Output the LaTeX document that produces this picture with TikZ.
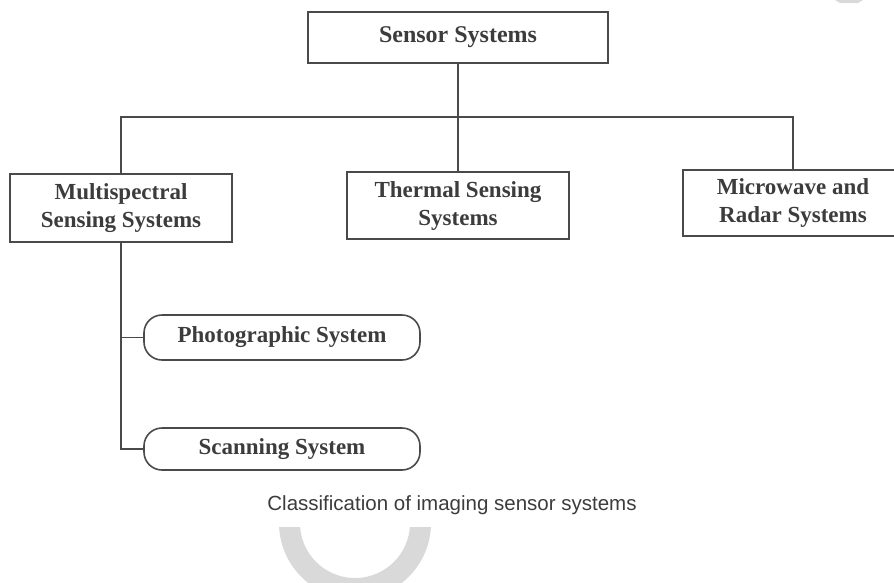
\documentclass[tikz,border=0pt]{standalone}
\usepackage{fontspec}
\setmainfont{Liberation Serif}
\newfontfamily\capfont{Liberation Sans}
\definecolor{inkgray}{HTML}{3C3C3C}
\definecolor{linegray}{HTML}{4A4A4A}
\definecolor{markgray}{HTML}{D9D9D9}

\tikzset{
  sysbox/.style={draw=linegray, line width=1.6pt, text=inkgray, align=center,
    inner sep=0pt, font=\bfseries\fontsize{23}{28}\selectfont},
  subbox/.style={sysbox, rounded corners=18pt},
  link/.style={draw=linegray, line width=1.6pt}
}

\begin{document}
\begin{tikzpicture}[x=1pt, y=-1pt]
  \useasboundingbox (0, 0) rectangle (894, 582);

  % Watermark pieces
  \begin{scope}
    \clip (250, 527) rectangle (460, 600);
    \draw[markgray, line width=21pt] (355, 523) circle (65.5);
  \end{scope}
  \fill[markgray] (835, 0) -- (863, 0) -- (858, 3) -- (840, 3) -- cycle;

  % Top level
  \node[sysbox, minimum width=300, minimum height=51,
    font=\bfseries\fontsize{24}{28}\selectfont] (sensor) at (458, 37.5) {Sensor Systems};

  % Second level
  \node[sysbox, minimum width=222, minimum height=68] (multi) at (121, 208) {Multispectral\\Sensing Systems};
  \node[sysbox, minimum width=222, minimum height=67] (thermal) at (458, 205.5) {Thermal Sensing\\Systems};
  \node[sysbox, minimum width=220, minimum height=66] (micro) at (793, 203) {Microwave and\\Radar Systems};

  % Under multispectral
  \node[subbox, minimum width=276, minimum height=45] (photo) at (282, 337.5) {Photographic System};
  \node[subbox, minimum width=276, minimum height=42] (scan) at (282, 449) {Scanning System};

  % Routings
  \coordinate (bus) at (458, 117);
  \draw[link] (sensor.south) -- (thermal.north); % Into thermal
  \draw[link] (multi.north) |- (bus) -| (micro.north); % Bus to sides
  \draw[link] (multi.south) |- (photo.west); % To photographic
  \draw[link] (multi.south) |- (scan.west); % To scanning

  % Caption
  \node[text=inkgray, font=\capfont\fontsize{20.5}{24}\selectfont] (caption) at (452, 505)
    {Classification of imaging sensor systems};
\end{tikzpicture}
\end{document}
